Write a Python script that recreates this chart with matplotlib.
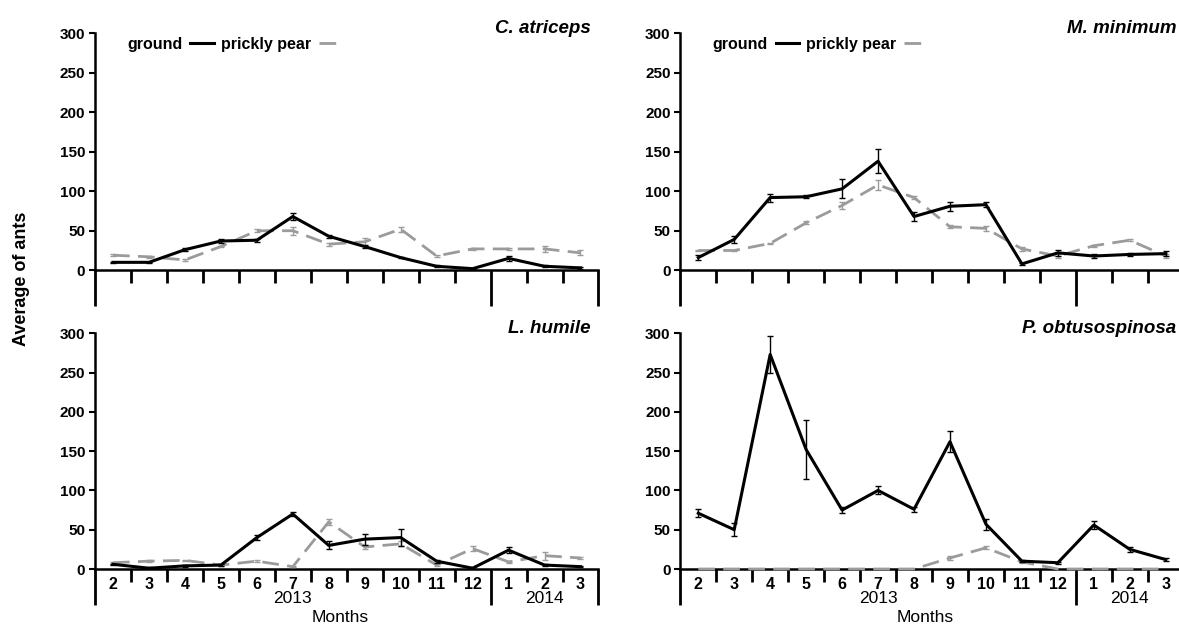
import numpy as np
import matplotlib
matplotlib.use("Agg")
import matplotlib.pyplot as plt

plt.rcParams['font.family'] = ['Liberation Sans', 'DejaVu Sans']

# month labels (Feb 2013 .. Mar 2014)
months = ['2', '3', '4', '5', '6', '7', '8', '9', '10', '11', '12', '1', '2', '3']
years = ['2013', '2014']

catr_ground = [10, 10, 26, 37, 38, 68, 43, 30, 16, 5, 2, 15, 5, 3]
catr_ground_err = [1, 1, 2, 2, 2, 4, 2, 2, 1, 1, 1, 3, 1, 1]
catr_pear = [19, 17, 13, 30, 50, 50, 33, 36, 52, 18, 27, 27, 27, 22]
catr_pear_err = [1, 1, 1, 1, 2, 5, 2, 5, 3, 1, 1, 1, 4, 3]

mmin_ground = [16, 39, 92, 93, 103, 138, 68, 81, 83, 8, 22, 18, 20, 21]
mmin_ground_err = [3, 4, 5, 2, 12, 15, 6, 6, 3, 1, 4, 2, 2, 3]
mmin_pear = [25, 25, 34, 60, 82, 108, 92, 55, 53, 27, 18, 31, 38, 18]
mmin_pear_err = [1, 1, 1, 2, 5, 6, 2, 2, 3, 3, 3, 1, 1, 3]

lhum_ground = [6, 1, 4, 5, 40, 70, 30, 38, 40, 10, 1, 24, 5, 3]
lhum_ground_err = [1, 1, 1, 1, 3, 2, 5, 7, 11, 2, 1, 4, 1, 1]
lhum_pear = [8, 10, 11, 5, 10, 3, 60, 28, 32, 5, 26, 9, 17, 14]
lhum_pear_err = [1, 1, 1, 1, 1, 1, 4, 3, 3, 1, 3, 1, 5, 1]

pobt_ground = [71, 50, 273, 152, 75, 100, 76, 162, 57, 10, 8, 56, 25, 12]
pobt_ground_err = [5, 8, 23, 38, 4, 5, 3, 13, 7, 1, 1, 5, 3, 2]
pobt_pear = [0, 0, 0, 0, 0, 0, 0, 14, 27, 9, 0, 0, 0, 0]
pobt_pear_err = [0, 0, 0, 0, 0, 0, 0, 3, 2, 1, 0, 0, 0, 0]

PEAR_COLOR = '#9b9b9b'


def draw_panel(ax, title, ground, ground_err, pear, pear_err,
               labels=False, legend=False):
    x = np.arange(len(months)) + 0.5
    ge = np.array(ground_err)
    pe = np.array(pear_err)

    # prickly pear: dashed grey
    l_pear, = ax.plot(x, pear, color=PEAR_COLOR, lw=2, dashes=(6, 3),
                      label='prickly pear', zorder=3, clip_on=False)
    m = pe > 0
    ax.errorbar(x[m], np.array(pear)[m], yerr=pe[m], fmt='none',
                ecolor=PEAR_COLOR, elinewidth=1, capsize=2.5, zorder=3)

    # ground: solid black
    l_ground, = ax.plot(x, ground, color='black', lw=2.2, label='ground',
                        zorder=4, clip_on=False)
    m = ge > 0
    ax.errorbar(x[m], np.array(ground)[m], yerr=ge[m], fmt='none',
                ecolor='black', elinewidth=1, capsize=2.5, zorder=4)

    ax.set_xlim(0, len(months))
    ax.set_ylim(0, 300)
    ax.set_yticks(np.arange(0, 301, 50))
    ax.tick_params(axis='y', length=4, width=1.5, labelsize=11, pad=3)
    for t in ax.get_yticklabels():
        t.set_fontweight('bold')

    for s in ['top', 'right']:
        ax.spines[s].set_visible(False)
    ax.spines['left'].set_linewidth(1.8)
    ax.spines['bottom'].set_linewidth(1.8)

    # month labels at category centres, short ticks at boundaries
    ax.set_xticks(x)
    ax.set_xticklabels(months if labels else [], fontweight='bold')
    ax.tick_params(axis='x', which='major', length=0, labelsize=11.5, pad=6)
    ax.set_xticks([b for b in range(1, len(months)) if b != 11], minor=True)
    ax.tick_params(axis='x', which='minor', length=9, width=2)

    # long ticks at the ends and at the year boundary
    sec = ax.secondary_xaxis('bottom')
    sec.set_xticks([0, 11, len(months)])
    sec.tick_params(length=26, width=2, labelbottom=False)
    sec.spines['bottom'].set_visible(False)

    ax.text(0.985, 1.0, title, transform=ax.transAxes, ha='right',
            va='baseline', fontsize=13.5, fontweight='bold', style='italic')

    if labels:
        ax.annotate(years[0], xy=(5.5, 0), xycoords=('data', 'axes fraction'),
                    xytext=(0, -21.5), textcoords='offset points',
                    ha='center', va='center', fontsize=12.5)
        ax.annotate(years[1], xy=(12.5, 0), xycoords=('data', 'axes fraction'),
                    xytext=(0, -21.5), textcoords='offset points',
                    ha='center', va='center', fontsize=12.5)
        ax.annotate('Months', xy=(7, 0), xycoords=('data', 'axes fraction'),
                    xytext=(-5, -35), textcoords='offset points',
                    ha='center', va='center', fontsize=12.5)

    if legend:
        ax.legend(handles=[l_ground, l_pear],
                  loc='upper left', bbox_to_anchor=(0.035, 1.045),
                  ncol=2, frameon=False, markerfirst=False,
                  handlelength=1.5, handletextpad=0.5,
                  columnspacing=0.4, prop={'size': 11.5, 'weight': 'bold'})


fig = plt.figure(figsize=(11.79, 6.27), dpi=100)
w, h = 0.427, 0.378
ax1 = fig.add_axes([0.0806, 0.569, w, h])
ax2 = fig.add_axes([0.577, 0.569, w, h])
ax3 = fig.add_axes([0.0806, 0.0925, w, 0.376])
ax4 = fig.add_axes([0.577, 0.0925, w, 0.376])

draw_panel(ax1, 'C. atriceps', catr_ground, catr_ground_err,
           catr_pear, catr_pear_err, legend=True)
draw_panel(ax2, 'M. minimum', mmin_ground, mmin_ground_err,
           mmin_pear, mmin_pear_err, legend=True)
draw_panel(ax3, 'L. humile', lhum_ground, lhum_ground_err,
           lhum_pear, lhum_pear_err, labels=True)
draw_panel(ax4, 'P. obtusospinosa', pobt_ground, pobt_ground_err,
           pobt_pear, pobt_pear_err, labels=True)

fig.text(0.018, 0.555, 'Average of ants', rotation=90, va='center',
         ha='center', fontsize=13, fontweight='bold')

fig.savefig('out.png', dpi=100)
